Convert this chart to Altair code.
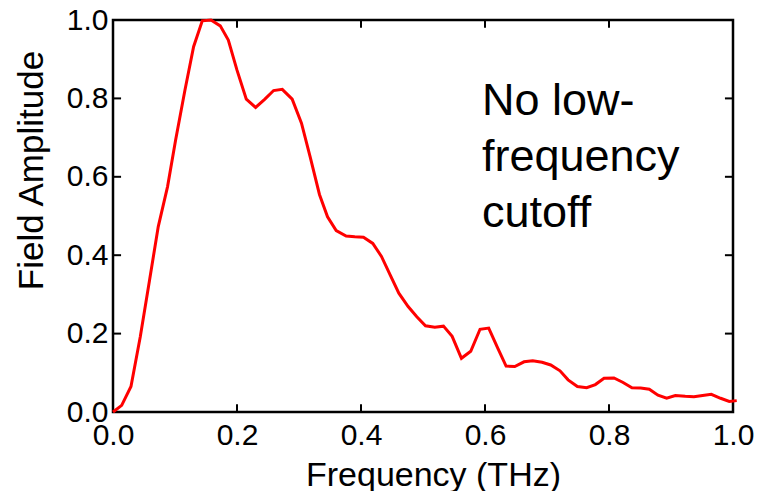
import altair as alt
import pandas as pd

# Spectrum
freq = [0.000, 0.014, 0.029, 0.044, 0.059, 0.073, 0.088, 0.101, 0.116, 0.130,
        0.144, 0.158, 0.173, 0.186, 0.200, 0.215, 0.230, 0.245, 0.259, 0.273,
        0.289, 0.304, 0.318, 0.333, 0.346, 0.360, 0.376, 0.390, 0.404, 0.419,
        0.433, 0.447, 0.461, 0.476, 0.490, 0.504, 0.519, 0.533, 0.547, 0.562,
        0.577, 0.592, 0.606, 0.620, 0.634, 0.648, 0.663, 0.677, 0.692, 0.706,
        0.721, 0.734, 0.749, 0.764, 0.778, 0.792, 0.808, 0.822, 0.837, 0.851,
        0.865, 0.879, 0.893, 0.907, 0.923, 0.937, 0.951, 0.965, 0.980, 0.994,
        1.006]
amp = [0.000, 0.017, 0.065, 0.192, 0.337, 0.473, 0.575, 0.694, 0.821, 0.932,
       0.998, 1.000, 0.985, 0.949, 0.872, 0.798, 0.777, 0.798, 0.820, 0.823,
       0.798, 0.737, 0.651, 0.555, 0.498, 0.463, 0.449, 0.447, 0.446, 0.430,
       0.397, 0.350, 0.303, 0.269, 0.243, 0.220, 0.216, 0.219, 0.193, 0.137,
       0.155, 0.211, 0.214, 0.165, 0.117, 0.116, 0.128, 0.131, 0.127, 0.120,
       0.105, 0.082, 0.065, 0.062, 0.070, 0.086, 0.087, 0.076, 0.062, 0.061,
       0.058, 0.043, 0.035, 0.042, 0.040, 0.039, 0.042, 0.045, 0.035, 0.027,
       0.029]

axis_ticks = [0.0, 0.2, 0.4, 0.6, 0.8, 1.0]
inner_ticks = [0.2, 0.4, 0.6, 0.8]
note_text = "No low-\nfrequency\ncutoff"
x_title = "Frequency (THz)"
y_title = "Field Amplitude"

FONT = "Liberation Sans"

df = pd.DataFrame({"f": freq, "a": amp})
ticks_df = pd.DataFrame({"t": inner_ticks})

xscale = alt.Scale(domain=[0, 1], nice=False, zero=False)
yscale = alt.Scale(domain=[0, 1], nice=False, zero=False)

xaxis = alt.Axis(values=axis_ticks, format=".1f", ticks=False, domain=False, grid=False,
                 labelFontSize=30, labelFont=FONT, labelColor="black", labelPadding=8,
                 labelFlush=False, labelOverlap=False, labelBound=False,
                 title=x_title, titleFont=FONT, titleFontSize=34, titleFontWeight="normal",
                 titleColor="black", titleX=320, titleY=73, titleBaseline="alphabetic",
                 titleAlign="center")
yaxis = alt.Axis(values=axis_ticks, format=".1f", ticks=False, domain=False, grid=False,
                 labelFontSize=30, labelFont=FONT, labelColor="black", labelPadding=5,
                 labelFlush=False, labelOverlap=False, labelBound=False,
                 title=y_title, titleFont=FONT, titleFontSize=35, titleFontWeight="normal",
                 titleColor="black", titleX=-71, titleY=150, titleBaseline="alphabetic",
                 titleAlign="center", titleAngle=270)

line = alt.Chart(df).mark_line(color="#ff0000", strokeWidth=3).encode(
    x=alt.X("f:Q", scale=xscale, axis=xaxis),
    y=alt.Y("a:Q", scale=yscale, axis=yaxis),
)

tick_style = dict(color="black", strokeWidth=2)
bottom = alt.Chart(ticks_df).mark_rule(**tick_style).encode(
    x=alt.X("t:Q", scale=xscale), y=alt.datum(0.0), y2=alt.datum(0.02))
top = alt.Chart(ticks_df).mark_rule(**tick_style).encode(
    x=alt.X("t:Q", scale=xscale), y=alt.datum(1.0), y2=alt.datum(0.98))
left = alt.Chart(ticks_df).mark_rule(**tick_style).encode(
    y=alt.Y("t:Q", scale=yscale), x=alt.datum(0.0), x2=alt.datum(0.013))
right = alt.Chart(ticks_df).mark_rule(**tick_style).encode(
    y=alt.Y("t:Q", scale=yscale), x=alt.datum(1.0), x2=alt.datum(0.987))

note = alt.Chart(pd.DataFrame({"txt": [note_text]})).mark_text(
    align="left", baseline="alphabetic", fontSize=45, font=FONT, color="black",
    lineBreak="\n", lineHeight=56
).encode(x=alt.datum(0.595), y=alt.datum(0.758), text="txt:N")

chart = alt.layer(line, bottom, top, left, right, note).properties(
    width=620, height=392,
    background="white",
    autosize=alt.AutoSizeParams(type="none"),
    padding={"left": 105, "top": 12, "right": 30, "bottom": 79},
).configure_view(stroke="black", strokeWidth=2.5)

chart.save("out.html", embed_options={"renderer": "svg", "actions": False})
